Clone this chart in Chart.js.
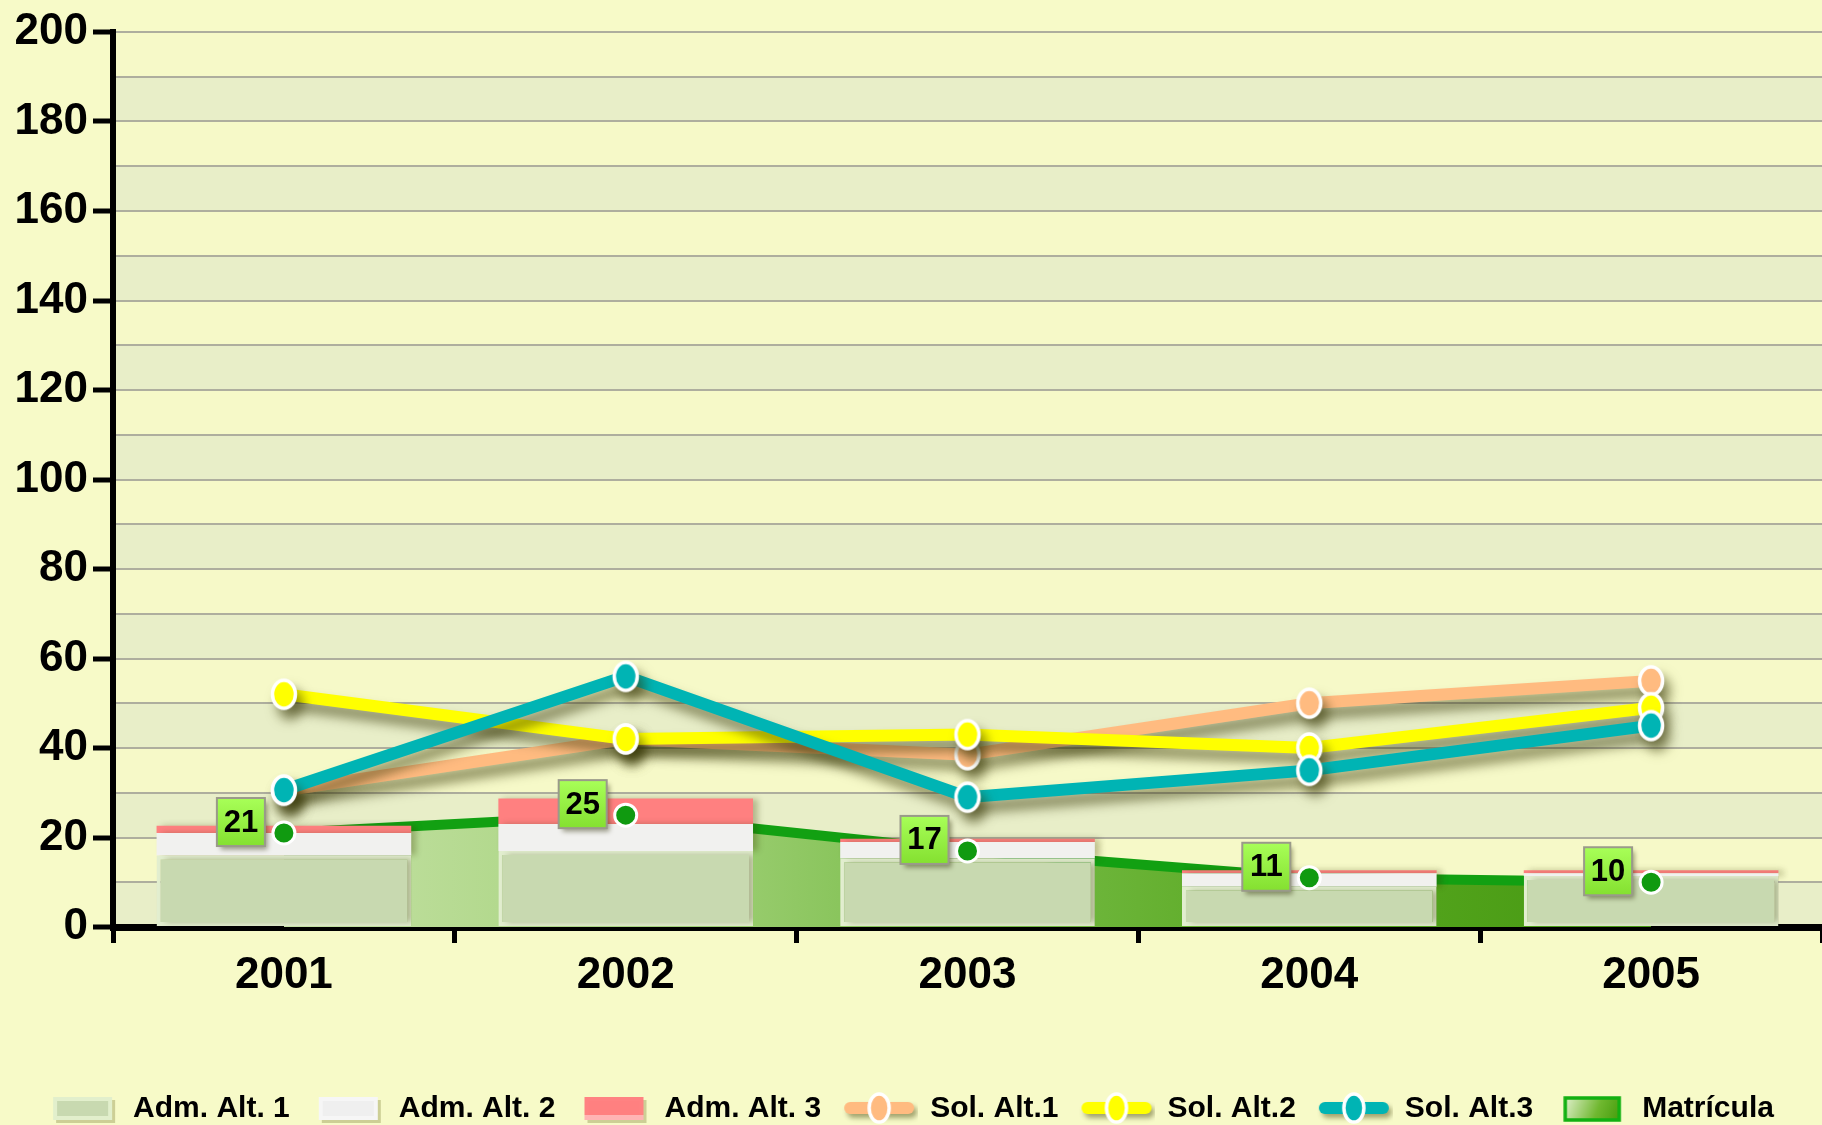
<!DOCTYPE html>
<html><head><meta charset="utf-8">
<script src="https://cdn.jsdelivr.net/npm/chart.js@4.4.1/dist/chart.umd.min.js"></script>
<style>html,body{margin:0;padding:0;background:#f7fac8;overflow:hidden}</style>
</head><body>
<canvas id="c" width="1822" height="1125"></canvas>
<script>
// ---- data ----
const years = ['2001', '2002', '2003', '2004', '2005'];
const admAlt1 = [16, 17, 15.3, 9, 11.4];
const admAlt2 = [5, 6, 3.7, 3, 0.6];
const admAlt3 = [1.6, 5.7, 0.7, 0.7, 0.7];
const solAlt1 = [30.5, 42, 38.5, 50, 55];
const solAlt2 = [52, 42, 43, 40, 49];
const solAlt3 = [30.6, 56, 29, 35, 45];
const matricula = [21, 25, 17, 11, 10];
const yMin = 0, yMax = 200, yStep = 10, yLabelEvery = 20;
const seriesNames = ['Adm. Alt. 1', 'Adm. Alt. 2', 'Adm. Alt. 3', 'Sol. Alt.1', 'Sol. Alt.2', 'Sol. Alt.3', 'Matrícula'];

const FONT = 'Liberation Sans, Arial, sans-serif';

// ---- symbols ----
function mk(w, h) { const c = document.createElement('canvas'); c.width = w; c.height = h; return c; }
function ellipsePoint(color) {
  const c = mk(30, 34), g = c.getContext('2d');
  g.beginPath(); g.ellipse(15, 17, 11.5, 14, 0, 0, Math.PI * 2);
  g.fillStyle = color; g.fill(); g.lineWidth = 3.5; g.strokeStyle = '#fff'; g.stroke();
  return c;
}
function boxSym(rim, fill, bottom) {
  const c = mk(70, 32), g = c.getContext('2d');
  g.fillStyle = 'rgba(80,80,0,0.25)'; g.fillRect(8, 7, 59, 23);
  g.fillStyle = rim; g.fillRect(5, 4, 59, 23);
  g.fillStyle = fill; g.fillRect(9, 8, 51, 15);
  if (bottom) { g.fillStyle = bottom; g.fillRect(5, 22, 59, 5); }
  return c;
}
function lineSym(color) {
  const c = mk(76, 36), g = c.getContext('2d');
  g.shadowColor = 'rgba(60,60,0,0.45)'; g.shadowBlur = 5; g.shadowOffsetX = 3; g.shadowOffsetY = 4;
  g.strokeStyle = color; g.lineWidth = 12; g.lineCap = 'round';
  g.beginPath(); g.moveTo(8, 17); g.lineTo(66, 17); g.stroke();
  g.shadowColor = 'transparent';
  g.beginPath(); g.ellipse(37, 17, 10, 14, 0, 0, Math.PI * 2);
  g.fillStyle = color; g.fill(); g.lineWidth = 3.5; g.strokeStyle = '#fff'; g.stroke();
  return c;
}
function matSym() {
  const c = mk(70, 32), g = c.getContext('2d');
  const gr = g.createLinearGradient(10, 6, 60, 26);
  gr.addColorStop(0, '#d8ecc0'); gr.addColorStop(0.6, '#70b830'); gr.addColorStop(1, '#4aa010');
  g.fillStyle = gr; g.fillRect(8, 5, 54, 22);
  g.lineWidth = 3.5; g.strokeStyle = '#12b012'; g.strokeRect(8, 5, 54, 22);
  return c;
}
const symbols = [
  boxSym('#e2efcc', '#c8d9b0'),
  boxSym('#f6f6f6', '#efefef'),
  boxSym('#ff8282', '#ff8080', '#ffb4b4'),
  lineSym('#ffbb80'),
  lineSym('#ffff00'),
  lineSym('#00b4b4'),
  matSym()
];
const ptOrange = ellipsePoint('#ffbb80'), ptYellow = ellipsePoint('#ffff00'), ptTeal = ellipsePoint('#00b4b4');

// ---- plugins ----
const bgPlugin = {
  id: 'bg',
  beforeDraw(chart) {
    const { ctx, chartArea: ca, scales: { y } } = chart;
    ctx.save();
    ctx.fillStyle = '#f7fac8';
    ctx.fillRect(0, 0, chart.width, chart.height);
    for (let v = yMin; v < yMax; v += yStep) {
      const k = Math.round(v / yStep);
      const top = y.getPixelForValue(v + yStep), bot = y.getPixelForValue(v);
      ctx.fillStyle = (k % 2 === 0) ? '#e8eec8' : '#f6f9c8';
      ctx.fillRect(ca.left, top, ca.right - ca.left, bot - top);
    }
    ctx.restore();
  }
};
const shadowPlugin = {
  id: 'shadows',
  beforeDatasetDraw(chart, args) {
    const ds = chart.data.datasets[args.index];
    const ctx = chart.ctx;
    ctx.save();
    if (ds._shadow === 'line') {
      ctx.shadowColor = 'rgba(50,50,0,0.55)'; ctx.shadowBlur = 12; ctx.shadowOffsetX = 6; ctx.shadowOffsetY = 10;
    } else if (ds._shadow === 'bar') {
      ctx.shadowColor = 'rgba(60,60,0,0.3)'; ctx.shadowBlur = 6; ctx.shadowOffsetX = 5; ctx.shadowOffsetY = 0;
    }
  },
  afterDatasetDraw(chart) { chart.ctx.restore(); }
};
const labelPlugin = {
  id: 'matLabels',
  afterDatasetsDraw(chart) {
    const idx = chart.data.datasets.findIndex(d => d._labels);
    if (idx < 0) return;
    const meta = chart.getDatasetMeta(idx);
    const ctx = chart.ctx;
    const vals = chart.data.datasets[idx].data;
    meta.data.forEach((pt, i) => {
      const w = 48, h = 48;
      const cx = pt.x - 43, cy = pt.y - 11;
      ctx.save();
      ctx.shadowColor = 'rgba(40,40,0,0.45)'; ctx.shadowBlur = 5; ctx.shadowOffsetX = 3; ctx.shadowOffsetY = 4;
      const gr = ctx.createLinearGradient(cx, cy - h / 2, cx, cy + h / 2);
      gr.addColorStop(0, '#a8ff58'); gr.addColorStop(1, '#84e030');
      ctx.fillStyle = gr;
      ctx.fillRect(cx - w / 2, cy - h / 2, w, h);
      ctx.shadowColor = 'transparent';
      ctx.lineWidth = 2; ctx.strokeStyle = '#9a9a8a';
      ctx.strokeRect(cx - w / 2, cy - h / 2, w, h);
      ctx.fillStyle = '#000';
      ctx.font = 'bold 31px ' + FONT;
      ctx.textAlign = 'center'; ctx.textBaseline = 'middle';
      ctx.fillText(String(vals[i]), cx, cy + 1);
      ctx.restore();
    });
  }
};

const ctxEl = document.getElementById('c');
const chart = new Chart(ctxEl, {
  data: {
    labels: years,
    datasets: [
      { type: 'bar', label: seriesNames[0], data: admAlt1, stack: 'adm', order: 4, _shadow: 'bar',
        backgroundColor: '#c8d9b0', borderColor: '#e2eecf', borderWidth: 4, borderSkipped: false,
        barPercentage: 0.745, categoryPercentage: 1 },
      { type: 'bar', label: seriesNames[1], data: admAlt2, stack: 'adm', order: 4, _shadow: 'bar',
        backgroundColor: '#f1f1ef', borderWidth: 0,
        barPercentage: 0.745, categoryPercentage: 1 },
      { type: 'bar', label: seriesNames[2], data: admAlt3, stack: 'adm', order: 4, _shadow: 'bar',
        backgroundColor: '#ff8080', borderWidth: 0,
        barPercentage: 0.745, categoryPercentage: 1 },
      { type: 'line', label: seriesNames[3], data: solAlt1, order: 3, _shadow: 'line',
        borderColor: '#ffbb80', backgroundColor: '#ffbb80', borderWidth: 12, tension: 0,
        pointStyle: ptOrange, pointRadius: 14 },
      { type: 'line', label: seriesNames[4], data: solAlt2, order: 2, _shadow: 'line',
        borderColor: '#ffff00', backgroundColor: '#ffff00', borderWidth: 12, tension: 0,
        pointStyle: ptYellow, pointRadius: 14 },
      { type: 'line', label: seriesNames[5], data: solAlt3, order: 1, _shadow: 'line',
        borderColor: '#00b4b4', backgroundColor: '#00b4b4', borderWidth: 12, tension: 0,
        pointStyle: ptTeal, pointRadius: 14 },
      { type: 'line', label: seriesNames[6], data: matricula, order: 6, fill: 'origin', tension: 0,
        borderColor: '#12a012', borderWidth: 10, pointRadius: 0,
        backgroundColor: (c) => {
          const ca = c.chart.chartArea;
          if (!ca) return '#80c040';
          const g = c.chart.ctx.createLinearGradient(ca.left, 0, ca.right, 0);
          g.addColorStop(0, '#d4e8b8'); g.addColorStop(0.3, '#a8d480');
          g.addColorStop(0.5, '#78bc48'); g.addColorStop(0.7, '#58a820'); g.addColorStop(1, '#3c900a');
          return g;
        } },
      { type: 'line', label: '_pts', data: matricula, order: 0, showLine: false, _labels: true,
        pointRadius: 11, pointBorderWidth: 3, pointBorderColor: '#ffffff', pointBackgroundColor: '#109a10' }
    ]
  },
  options: {
    responsive: false,
    animation: false,
    devicePixelRatio: 1,
    layout: { autoPadding: false, padding: { top: 32, left: 0, right: 0, bottom: -9 } },
    plugins: {
      tooltip: { enabled: false },
      legend: {
        position: 'bottom',
        labels: {
          usePointStyle: true,
          pointStyleWidth: 70,
          padding: 24,
          color: '#000',
          font: { family: FONT, size: 30, weight: 'bold' },
          filter: (item) => item.text !== '_pts',
          sort: (a, b) => a.datasetIndex - b.datasetIndex,
          generateLabels: (chart) => {
            const items = Chart.defaults.plugins.legend.labels.generateLabels(chart);
            items.forEach(it => { if (it.datasetIndex < symbols.length) it.pointStyle = symbols[it.datasetIndex]; });
            return items;
          }
        }
      }
    },
    scales: {
      x: {
        type: 'category',
        offset: true,
        grid: { offset: true, drawOnChartArea: false, tickLength: 16, tickColor: '#000', tickWidth: 5 },
        border: { color: '#000', width: 7 },
        ticks: { color: '#000', padding: 6, font: { family: FONT, size: 44, weight: 'bold' } },
        afterFit: (s) => { s.height = 143; }
      },
      y: {
        min: yMin, max: yMax,
        grid: {
          color: '#aeae9e', lineWidth: 2, tickLength: 20, tickWidth: 5,
          tickColor: (c) => (c.tick && c.tick.value % yLabelEvery === 0) ? '#000' : 'rgba(0,0,0,0)'
        },
        border: { color: '#000', width: 6 },
        ticks: {
          stepSize: yStep, autoSkip: false, color: '#000', padding: 5,
          font: { family: FONT, size: 44, weight: 'bold' },
          callback: (v) => (v % yLabelEvery === 0 ? String(v) : '')
        },
        afterFit: (s) => { s.width = 113; }
      }
    }
  },
  plugins: [bgPlugin, shadowPlugin, labelPlugin]
});
</script>
</body></html>
